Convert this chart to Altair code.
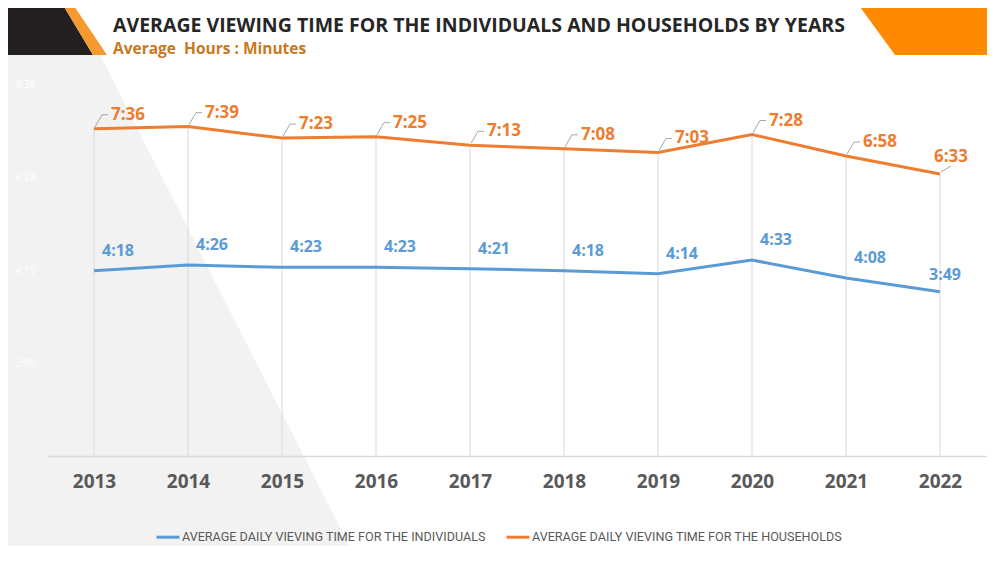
import altair as alt
import pandas as pd

# ---------------- data ----------------
years = ["2013", "2014", "2015", "2016", "2017", "2018", "2019", "2020", "2021", "2022"]
individuals = ["4:18", "4:26", "4:23", "4:23", "4:21", "4:18", "4:14", "4:33", "4:08", "3:49"]
households = ["7:36", "7:39", "7:23", "7:25", "7:13", "7:08", "7:03", "7:28", "6:58", "6:33"]
series_names = ["AVERAGE DAILY VIEVING TIME FOR THE INDIVIDUALS",
                "AVERAGE DAILY VIEVING TIME FOR THE HOUSEHOLDS"]
series_colors = ["#5b9bd5", "#ed7d31"]
# axis ticks are 0.09-day steps, expressed in minutes (2:09, 4:19, 6:28, 8:38)
y_tick_minutes = [129.6, 259.2, 388.8, 518.4]
y_max_minutes = 518.4
title_text = ["AVERAGE VIEWING TIME FOR THE INDIVIDUALS AND HOUSEHOLDS BY YEARS"]
subtitle_text = ["Average\u00a0 Hours : Minutes"]

# decorative background geometry (page pixel space)
deco_shape = ["a_grey", "a_grey", "b_black", "b_black", "c_stripe", "c_stripe", "d_corner", "d_corner"]
deco_y = [55, 561, 0, 55, 0, 55, 0, 55]
deco_x_left = [0, 0, 0, 0, 60, 93, 855, 895]
deco_x_right = [100, 357, 60, 93, 70, 107, 995, 995]
deco_fill = ["#f2f2f2", "#f2f2f2", "#231f20", "#231f20", "#f7992f", "#f7992f", "#ff8a00", "#ff8a00"]


def to_minutes(s):
    h, m = s.split(":")
    return int(h) * 60 + int(m)


rows = []
for name, vals in zip(series_names, [individuals, households]):
    for y, v in zip(years, vals):
        rows.append({"year": y, "series": name, "minutes": to_minutes(v), "label": v})
df = pd.DataFrame(rows)

deco = pd.DataFrame({"shape": deco_shape, "py": deco_y, "xl": deco_x_left,
                     "xr": deco_x_right, "fill": deco_fill})
titles = pd.DataFrame({"t": title_text, "px": [113], "py": [32]})
subtitles = pd.DataFrame({"t": subtitle_text, "px": [113], "py": [54]})

W, H = 940, 372
FONT = "Open Sans"
LAST = years[-1]

# ---------------- decorative / pixel layer ----------------
px_x = alt.Scale(domain=[47, 47 + W], nice=False, zero=False)
px_y = alt.Scale(domain=[84, 84 + H], nice=False, zero=False, reverse=True)

deco_layer = alt.Chart(deco).mark_area(orient="horizontal", clip=False).encode(
    y=alt.Y("py:Q", scale=px_y, axis=None),
    x=alt.X("xl:Q", scale=px_x, axis=None, stack=None),
    x2="xr:Q",
    detail="shape:N",
    fill=alt.Fill("fill:N", scale=None),
)

title_layer = alt.Chart(titles).mark_text(
    align="left", baseline="alphabetic", fontSize=19.5, fontWeight="bold",
    font=FONT, color="#262626", clip=False
).encode(
    x=alt.X("px:Q", scale=px_x, axis=None),
    y=alt.Y("py:Q", scale=px_y, axis=None),
    text="t:N",
)

subtitle_layer = alt.Chart(subtitles).mark_text(
    align="left", baseline="alphabetic", fontSize=15.5, fontWeight="bold",
    font=FONT, color="#c8781e", clip=False
).encode(
    x=alt.X("px:Q", scale=px_x, axis=None),
    y=alt.Y("py:Q", scale=px_y, axis=None),
    text="t:N",
)

pixel_layer = alt.layer(deco_layer, title_layer, subtitle_layer)

# ---------------- main chart ----------------
x_enc = alt.X(
    "year:O",
    scale=alt.Scale(type="point", padding=0.5),
    title=None,
    axis=alt.Axis(
        labelFont=FONT, labelFontSize=19, labelFontWeight="bold",
        labelColor="#595959", labelPadding=16, ticks=False, grid=False,
        domainColor="#d9d9d9", domainWidth=1.5, labelAngle=0, zindex=1,
    ),
)
y_enc = alt.Y(
    "minutes:Q",
    scale=alt.Scale(domain=[0, y_max_minutes], nice=False),
    title=None,
    axis=alt.Axis(
        values=y_tick_minutes,
        labelExpr="floor(datum.value/60) + ':' + (floor(datum.value%60) < 10 ? '0' : '') + floor(datum.value%60)",
        labelFont=FONT, labelFontSize=10, labelColor="#ffffff",
        labelPadding=12, ticks=False, grid=False, domain=False, zindex=1,
    ),
)
color_enc = alt.Color(
    "series:N",
    scale=alt.Scale(domain=series_names, range=series_colors),
    legend=alt.Legend(
        title=None, orient="none", direction="horizontal",
        legendX=108, legendY=440, symbolType="stroke", symbolSize=529,
        symbolStrokeWidth=3, labelFont="Roboto", labelFontSize=12.6,
        labelColor="#595959", columnPadding=14, labelOffset=1, padding=0,
        labelLimit=400,
    ),
)

base = alt.Chart(df)
hh = base.transform_filter(alt.datum.series == series_names[1])
ind = base.transform_filter(alt.datum.series == series_names[0])
hh_main = hh.transform_filter(alt.datum.year != LAST)
hh_last = hh.transform_filter(alt.datum.year == LAST)
ind_main = ind.transform_filter(alt.datum.year != LAST)
ind_last = ind.transform_filter(alt.datum.year == LAST)

drop_lines = hh.mark_rule(color="#d9d9d9", strokeWidth=1).encode(
    x=x_enc, y=y_enc, y2=alt.Y2(datum=0)
)

lines = base.mark_line(strokeWidth=3).encode(
    x=x_enc, y=y_enc, color=color_enc, detail="series:N"
)

LEADER = "#a6a6a6"
leader_diag = hh_main.mark_rule(color=LEADER, strokeWidth=1, xOffset=1, yOffset=-2,
                                x2Offset=8, y2Offset=-14).encode(
    x=x_enc, y=y_enc, x2="year:O", y2="minutes:Q"
)
leader_flat = hh_main.mark_rule(color=LEADER, strokeWidth=1, xOffset=8, yOffset=-14,
                                x2Offset=14, y2Offset=-14).encode(
    x=x_enc, y=y_enc, x2="year:O", y2="minutes:Q"
)
leader_last = hh_last.mark_rule(color=LEADER, strokeWidth=1, xOffset=1, yOffset=-2,
                                x2Offset=11, y2Offset=-8).encode(
    x=x_enc, y=y_enc, x2="year:O", y2="minutes:Q"
)

txt_kw = dict(baseline="middle", fontWeight="bold", font=FONT)
hh_text = hh_main.mark_text(align="left", dx=17, dy=-14, fontSize=17, **txt_kw).encode(
    x=x_enc, y=y_enc, text="label:N", color=color_enc
)
hh_text_last = hh_last.mark_text(align="left", dx=-6, dy=-17, fontSize=17, **txt_kw).encode(
    x=x_enc, y=y_enc, text="label:N", color=color_enc
)
ind_text = ind_main.mark_text(align="left", dx=8, dy=-20, fontSize=16, **txt_kw).encode(
    x=x_enc, y=y_enc, text="label:N", color=color_enc
)
ind_text_last = ind_last.mark_text(align="left", dx=-11, dy=-17, fontSize=16, **txt_kw).encode(
    x=x_enc, y=y_enc, text="label:N", color=color_enc
)

main = alt.layer(drop_lines, lines, leader_diag, leader_flat, leader_last,
                 hh_text, hh_text_last, ind_text, ind_text_last)

chart = alt.layer(pixel_layer, main).resolve_scale(
    x="independent", y="independent"
).properties(
    width=W, height=H,
    autosize=alt.AutoSizeParams(type="none"),
    padding={"left": 39, "top": 76, "right": 0, "bottom": 90},
).configure(background="#ffffff", view=alt.ViewConfig(stroke=None))

chart.save("out.html", embed_options={"renderer": "svg", "actions": False})
